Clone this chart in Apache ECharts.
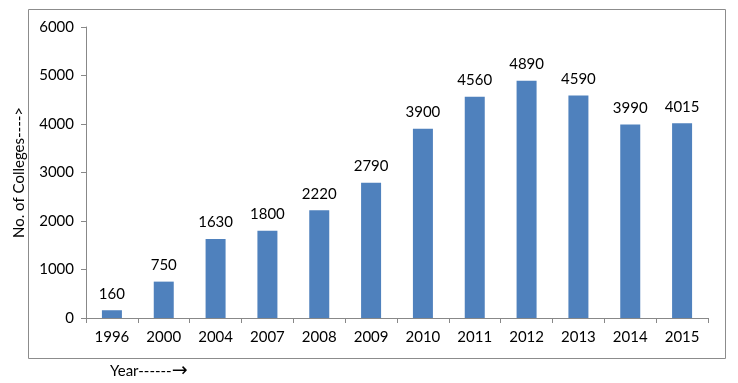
<!DOCTYPE html>
<html><head><meta charset="utf-8">
<script src="https://cdn.jsdelivr.net/npm/echarts@6/dist/echarts.min.js"></script>
<style>html,body{margin:0;padding:0;background:#fff}#c{width:738px;height:383px}</style>
</head><body><div id="c"></div>
<script>
const years = ['1996','2000','2004','2007','2008','2009','2010','2011','2012','2013','2014','2015'];
const colleges = [160,750,1630,1800,2220,2790,3900,4560,4890,4590,3990,4015];
const yTicks = {min:0, max:6000, interval:1000};
const yName = 'No. of Colleges---->';
const xName = 'Year------';
const xArrow = '\u2192';

const FONT = 'Lato';
const FS = 15;
const chart = echarts.init(document.getElementById('c'));
chart.setOption({
  animation:false,
  textStyle:{fontFamily:FONT},
  graphic:[
    {type:'rect', shape:{x:28.5,y:9.5,width:697,height:349}, style:{fill:'none', stroke:'#8c8c8c', lineWidth:1}, z:-1},
    {type:'text', left:110, top:362, style:{
      text:'{a|'+xName+'}{b|'+xArrow+'}',
      rich:{a:{fontSize:FS, fontFamily:FONT, color:'#000'}, b:{fontSize:19, fontFamily:'DejaVu Sans', color:'#000'}}
    }}
  ],
  grid:{left:86, right:30, top:27, bottom:65},
  xAxis:{type:'category', data:years,
    axisLine:{lineStyle:{color:'#888'}},
    axisTick:{show:true, alignWithLabel:false, length:5, lineStyle:{color:'#888'}},
    axisLabel:{color:'#000', fontSize:FS, margin:12, fontFamily:FONT}},
  yAxis:{type:'value', min:yTicks.min, max:yTicks.max, interval:yTicks.interval,
    name:yName, nameLocation:'middle', nameGap:59, nameRotate:90,
    nameTextStyle:{color:'#000', fontSize:FS, fontFamily:FONT},
    axisLine:{show:true, lineStyle:{color:'#888'}},
    axisTick:{show:true, length:5, lineStyle:{color:'#888'}},
    splitLine:{show:false},
    axisLabel:{color:'#000', fontSize:FS, margin:12, fontFamily:FONT, formatter:function(v){return String(v);}}},
  series:[{type:'bar', data:colleges, barWidth:20, itemStyle:{color:'#4F81BD'},
    label:{show:true, position:'top', distance:9, color:'#000', fontSize:FS, fontFamily:FONT}}]
});
</script></body></html>
